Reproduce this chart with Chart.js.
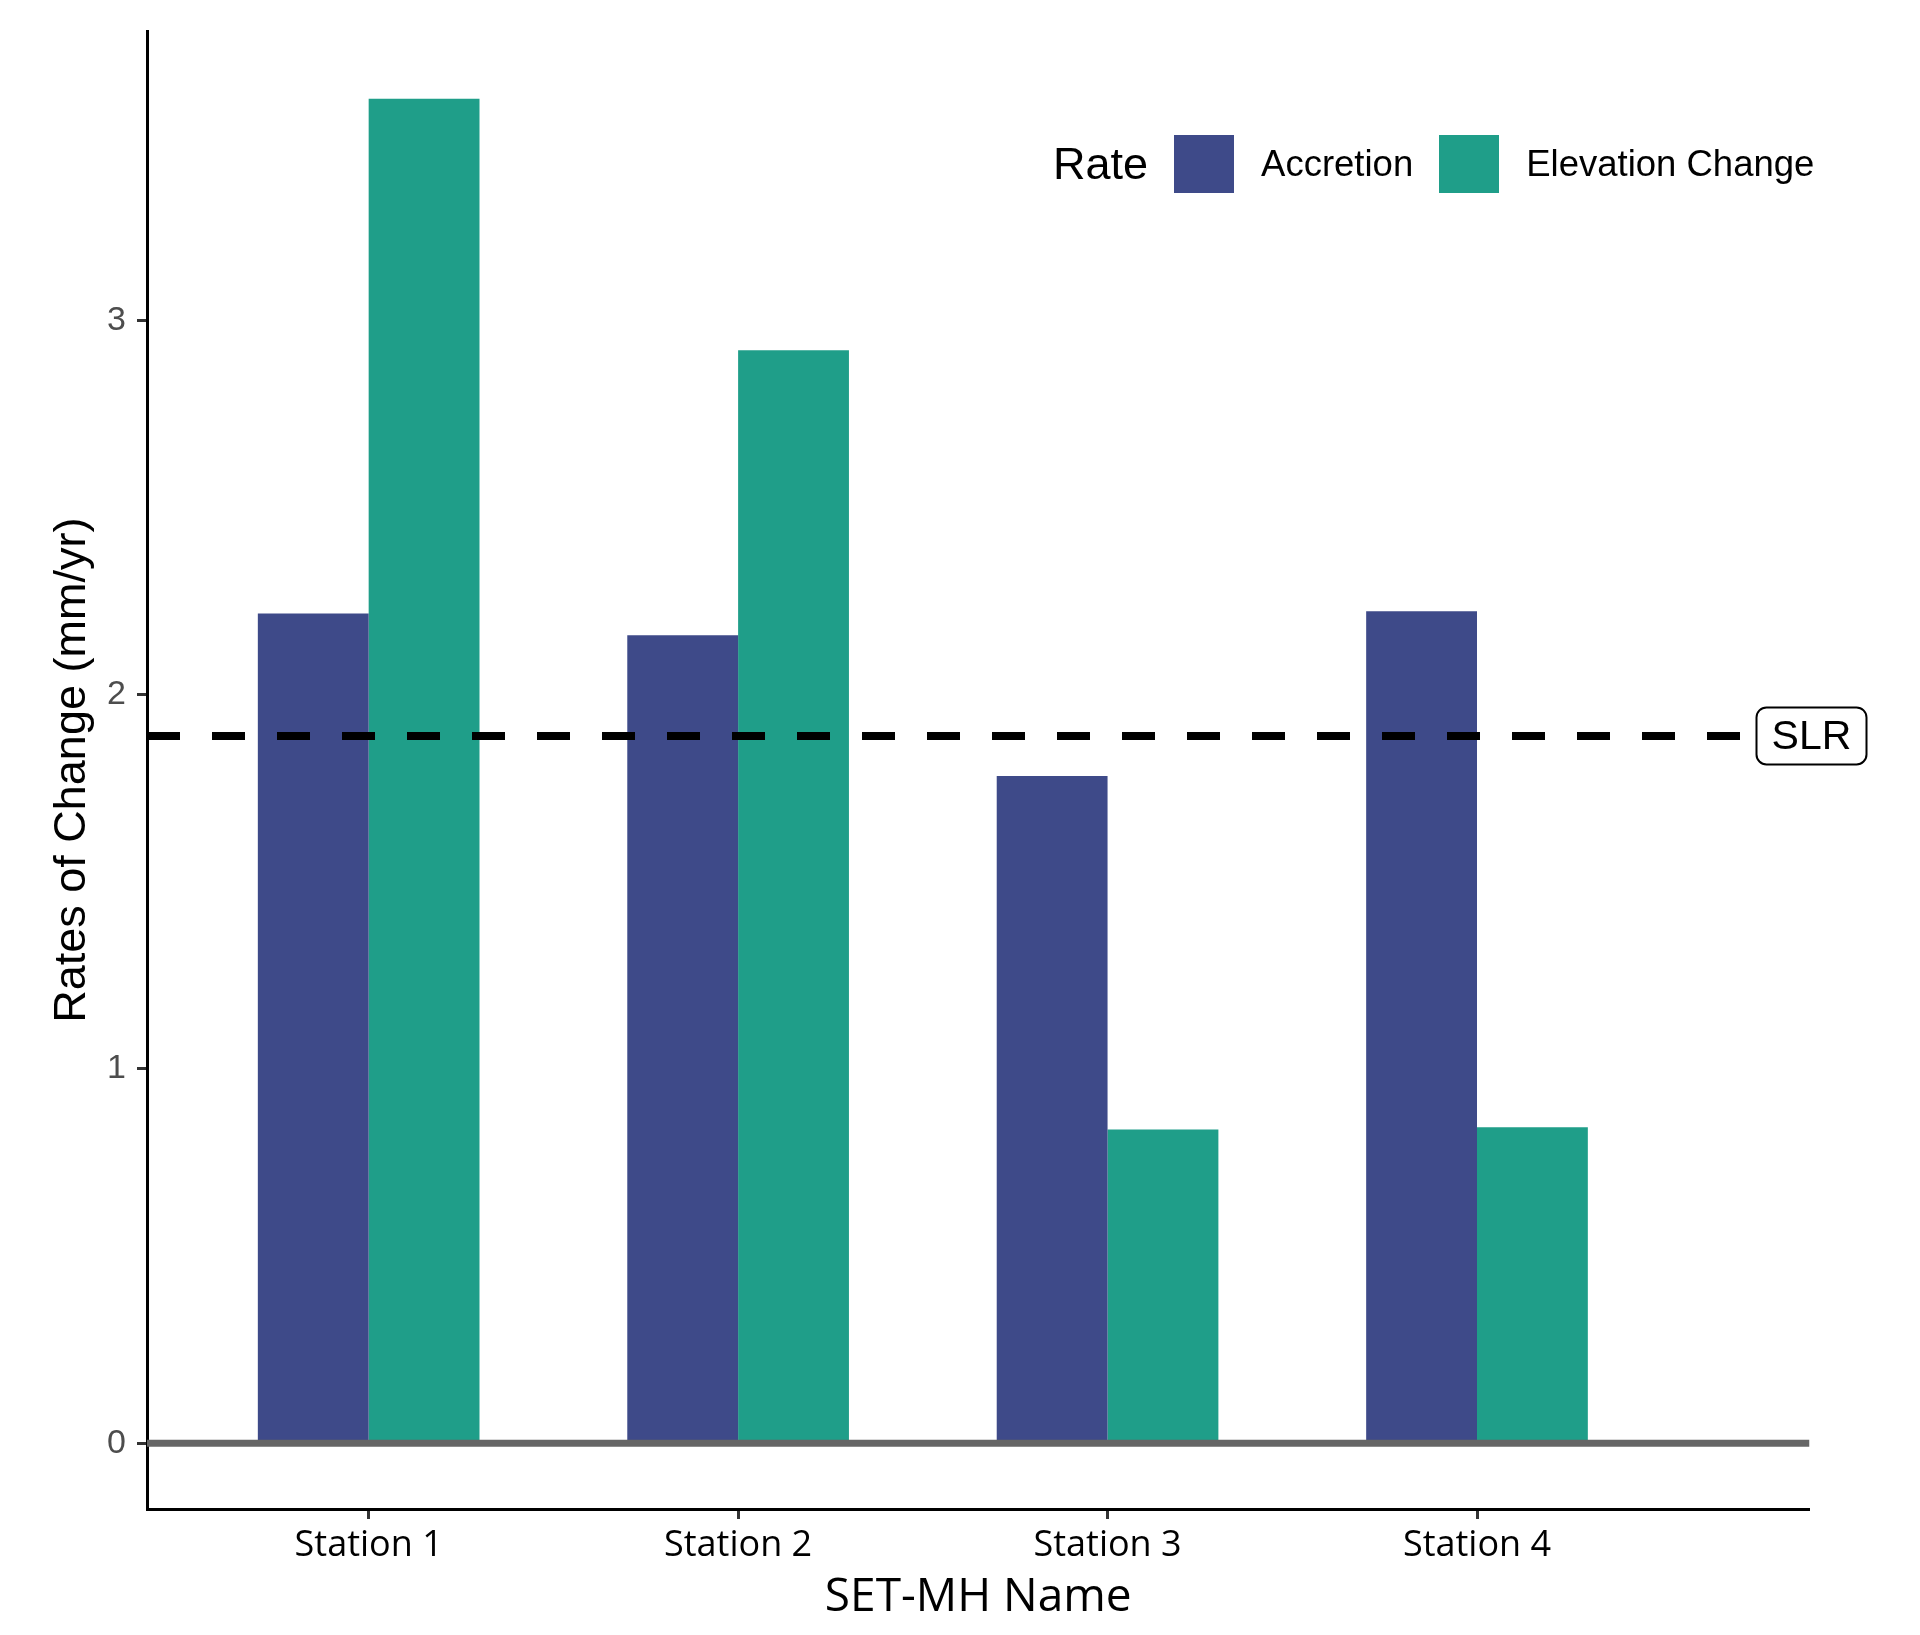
<!DOCTYPE html>
<html>
<head>
<meta charset="utf-8">
<script src="https://cdn.jsdelivr.net/npm/chart.js@4.4.1/dist/chart.umd.min.js"></script>
<style>
  body { margin: 0; background: #fff; }
  #wrap { position: relative; width: 1920px; height: 1635px; }
  #legend {
    position: absolute; left: 1053px; top: 135px; height: 58px;
    display: flex; align-items: center;
    font-family: "Liberation Sans", Arial, sans-serif; color: #000;
  }
  #legend .title { font-size: 45px; margin-right: 26px; }
  #legend .key { width: 60px; height: 58px; margin-right: 27px; }
  #legend .lab { font-size: 36.5px; margin-right: 26px; }
</style>
</head>
<body>
<div id="wrap">
  <canvas id="rateChart"></canvas>
  <div id="legend"></div>
</div>
<script>
// data
const stations = ["Station 1", "Station 2", "Station 3", "Station 4"];
const accretion = [2.217, 2.159, 1.783, 2.223];
const elevationChange = [3.593, 2.921, 0.838, 0.844];
const slrRate = 1.89;
const yTicks = [0, 1, 2, 3];

const seriesNames = ["Accretion", "Elevation Change"];
const seriesColors = ["#3E4A89", "#1F9E89"];
const legendTitle = "Rate";

const xMin = 0.4, xMax = 4.9;
const yMin = -0.176, yMax = 3.773;

function toPoints(values) {
    return values.map((v, i) => ({ x: i + 1, y: v }));
}

// SLR label box at the right end of the dashed line
const slrLabel = {
    id: 'slrLabel',
    afterDatasetsDraw(chart) {
        const ctx = chart.ctx;
        const x = chart.scales.x.getPixelForValue(xMax) + 2;
        const y = chart.scales.y.getPixelForValue(slrRate);
        const w = 110, h = 57;
        ctx.save();
        ctx.beginPath();
        ctx.roundRect(x - w / 2, y - h / 2, w, h, 10);
        ctx.fillStyle = '#fff';
        ctx.fill();
        ctx.lineWidth = 2;
        ctx.strokeStyle = '#000';
        ctx.stroke();
        ctx.fillStyle = '#000';
        ctx.font = '41px "Liberation Sans", Arial, sans-serif';
        ctx.textAlign = 'center';
        ctx.textBaseline = 'middle';
        ctx.fillText('SLR', x, y + 2);
        ctx.restore();
    }
};

const ctx = document.getElementById("rateChart");
new Chart(ctx, {
    type: 'bar',
    data: {
        datasets: [
            {
                type: 'line',
                label: 'zero',
                data: [{ x: xMin, y: 0 }, { x: xMax, y: 0 }],
                borderColor: '#666666',
                borderWidth: 7,
                pointRadius: 0,
                order: 0
            },
            {
                type: 'line',
                label: 'SLR',
                data: [{ x: xMin, y: slrRate }, { x: xMax, y: slrRate }],
                borderColor: '#000',
                borderWidth: 8,
                borderDash: [33, 32],
                pointRadius: 0,
                order: 1
            },
            {
                label: seriesNames[0],
                data: toPoints(accretion),
                backgroundColor: seriesColors[0],
                order: 2
            },
            {
                label: seriesNames[1],
                data: toPoints(elevationChange),
                backgroundColor: seriesColors[1],
                order: 2
            }
        ]
    },
    options: {
        responsive: true,
        maintainAspectRatio: false,
        animation: false,
        categoryPercentage: 0.6,
        barPercentage: 1.0,
        layout: { padding: { top: 24.5, right: 110.5, left: 0, bottom: 0 } },
        plugins: {
            legend: { display: false },
            tooltip: { enabled: false }
        },
        scales: {
            x: {
                type: 'linear',
                min: xMin,
                max: xMax,
                offset: false,
                afterBuildTicks: (scale) => {
                    scale.ticks = stations.map((s, i) => ({ value: i + 1 }));
                },
                afterFit: (scale) => { scale.height = 126; },
                grid: {
                    offset: false,
                    drawOnChartArea: false,
                    drawTicks: true,
                    tickLength: 10,
                    tickWidth: 3,
                    tickColor: '#333333'
                },
                border: { display: true, color: '#000', width: 3 },
                ticks: {
                    padding: 5,
                    color: '#000',
                    maxRotation: 0,
                    autoSkip: false,
                    font: { family: '"Open Sans"', size: 36 },
                    callback: (v) => stations[v - 1]
                },
                title: {
                    display: true,
                    text: 'SET-MH Name',
                    color: '#000',
                    font: { family: '"Open Sans"', size: 46 },
                    padding: { top: 0, bottom: 10 }
                }
            },
            y: {
                min: yMin,
                max: yMax,
                afterBuildTicks: (scale) => {
                    scale.ticks = yTicks.map(v => ({ value: v }));
                },
                afterFit: (scale) => { scale.width = 147; },
                grid: {
                    drawOnChartArea: false,
                    drawTicks: true,
                    tickLength: 10,
                    tickWidth: 3,
                    tickColor: '#333333'
                },
                border: { display: true, color: '#000', width: 3 },
                ticks: {
                    padding: 11,
                    color: '#4d4d4d',
                    font: { family: '"Liberation Sans"', size: 34 }
                },
                title: {
                    display: true,
                    text: 'Rates of Change (mm/yr)',
                    color: '#000',
                    font: { family: '"Liberation Sans"', size: 45 },
                    padding: { top: 46, bottom: 0 }
                }
            }
        }
    },
    plugins: [slrLabel]
});

// legend built from the series arrays
const legend = document.getElementById("legend");
let html = `<span class="title">${legendTitle}</span>`;
seriesNames.map((name, i) => {
    html += `<span class="key" style="background:${seriesColors[i]}"></span><span class="lab">${name}</span>`;
});
legend.innerHTML = html;
</script>
</body>
</html>
